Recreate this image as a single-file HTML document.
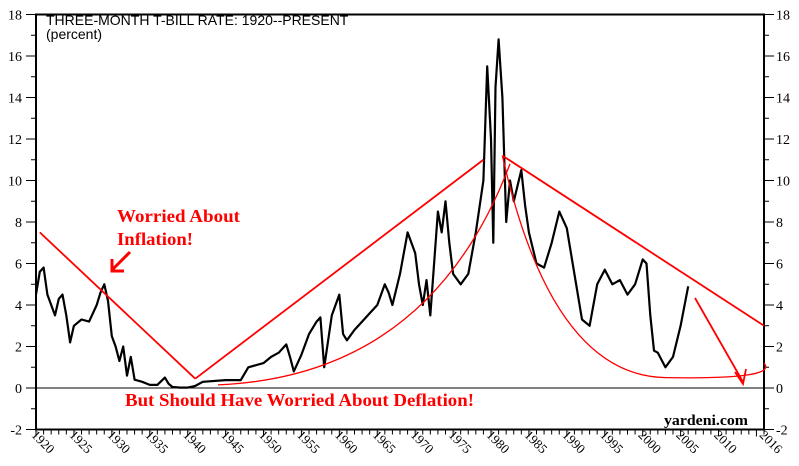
<!DOCTYPE html>
<html><head><meta charset="utf-8"><style>
body{margin:0;background:#fff;}
svg{display:block;font-family:"Liberation Serif",serif;}
</style></head><body>
<svg id="c" width="799" height="466"></svg>
<script>
const years=[1920,1920.5,1921,1921.5,1922,1922.5,1923,1923.5,1924,1924.5,1925,1926,1927,1928,1928.5,1929,1929.5,1930,1930.5,1931,1931.5,1932,1932.5,1933,1934,1935,1936,1937,1937.5,1938,1939,1940,1941,1942,1945,1947,1948,1949,1950,1951,1952,1953,1953.5,1954,1955,1956,1957,1957.5,1958,1959,1960,1960.5,1961,1962,1963,1964,1965,1966,1966.5,1967,1968,1969,1970,1970.5,1971,1971.5,1972,1973,1973.5,1974,1974.5,1975,1976,1977,1978,1979,1979.5,1980,1980.3,1980.6,1981,1981.5,1982,1982.5,1983,1984,1984.5,1985,1986,1987,1988,1989,1990,1991,1992,1993,1994,1995,1996,1997,1998,1999,2000,2000.5,2001,2001.5,2002,2003,2004,2005,2006];
const rates=[4.5,5.6,5.8,4.5,4.0,3.5,4.3,4.5,3.5,2.2,3.0,3.3,3.2,4.0,4.6,5.0,4.2,2.5,2.0,1.3,2.0,0.6,1.5,0.4,0.3,0.15,0.15,0.5,0.2,0.05,0.02,0.02,0.1,0.3,0.38,0.38,1.0,1.1,1.2,1.5,1.7,2.1,1.5,0.8,1.6,2.6,3.2,3.4,1.0,3.5,4.5,2.6,2.3,2.8,3.2,3.6,4.0,5.0,4.6,4.0,5.5,7.5,6.5,5.0,4.0,5.2,3.5,8.5,7.5,9.0,7.0,5.5,5.0,5.5,7.5,10.0,15.5,12.0,7.0,14.5,16.8,14.0,8.0,10.0,9.0,10.5,8.8,7.5,6.0,5.8,7.0,8.5,7.7,5.5,3.3,3.0,5.0,5.7,5.0,5.2,4.5,5.0,6.2,6.0,3.5,1.8,1.7,1.0,1.5,3.0,4.9];
const yTicks=[-2,0,2,4,6,8,10,12,14,16,18];
const xLabels=[1920,1925,1930,1935,1940,1945,1950,1955,1960,1965,1970,1975,1980,1985,1990,1995,2000,2005,2010,2016];
const X0=36,X1=764,Y0=388,PU=20.75;
const xs=y=>X0+(y-1920)*(X1-X0)/96;
const ys=v=>Y0-v*PU;
const svg=document.getElementById('c');
const NS='http://www.w3.org/2000/svg';
function mk(t,a,p){const e=document.createElementNS(NS,t);for(const k in a)e.setAttribute(k,a[k]);(p||svg).appendChild(e);return e;}
let e=mk('rect',{x:X0,y:ys(18),width:X1-X0,height:ys(-2)-ys(18),fill:'none',stroke:'#000','stroke-width':2});

e=mk('line',{x1:X0,x2:X1,y1:ys(0),y2:ys(0),stroke:'#000','stroke-width':1});

for(let v=-2;v<=18;v++){const big=v%2===0;const L=big?10:5;
 mk('line',{x1:X0-L,x2:X0,y1:ys(v),y2:ys(v),stroke:'#000'});
 mk('line',{x1:X1,x2:X1+L,y1:ys(v),y2:ys(v),stroke:'#000'});}
yTicks.forEach(v=>{
 let t=mk('text',{x:22,y:ys(v)+5,'text-anchor':'end','font-size':14});t.textContent=v;
 
 t=mk('text',{x:776,y:ys(v)+5,'text-anchor':'start','font-size':14});t.textContent=v;
 });
for(let y=1920;y<=2016;y++){mk('line',{x1:xs(y),x2:xs(y),y1:ys(-2),y2:ys(-2)+(y%5===0?7:5),stroke:'#000'});}
xLabels.forEach(y=>{const x=xs(y)+4,yy=445;
 const t=mk('text',{x:x,y:yy,'font-size':13,transform:`rotate(45 ${x} ${yy})`,'text-anchor':'middle'});t.textContent=y;
 });
e=mk('path',{d:years.map((y,i)=>(i?'L':'M')+xs(y).toFixed(1)+' '+ys(rates[i]).toFixed(1)).join(''),fill:'none',stroke:'#000','stroke-width':2.2,'stroke-linejoin':'round'});

const R='#f00';
function ln(a,b,c,d,n){const l=mk('line',{x1:xs(a),y1:ys(b),x2:xs(c),y2:ys(d),stroke:R,'stroke-width':1.8});}
ln(1920.5,7.5,1941,0.45,'trend-down-1920s');
ln(1941,0.45,1979,11.0,'trend-up-postwar');
ln(1981.5,11.2,2016,3.0,'trend-down-1980s');
e=mk('path',{d:`M${xs(1944)} ${ys(0.15)} Q${xs(1972)} ${ys(0.6)} ${xs(1982.5)} ${ys(10.8)}`,fill:'none',stroke:R,'stroke-width':1.3});

e=mk('path',{d:`M${xs(1981.5)} ${ys(11.2)} Q${xs(1988)} ${ys(0.6)} ${xs(2003)} ${ys(0.5)} T${xs(2016)} ${ys(1.2)}`,fill:'none',stroke:R,'stroke-width':1.3});

e=mk('path',{d:'M695 298 L743 382 M735 372 L743 384 L746 369',fill:'none',stroke:R,'stroke-width':1.8});

e=mk('path',{d:'M130 252 L112 270 M112 259 L112 271 L124 271',fill:'none',stroke:R,'stroke-width':3});

function tx(x,y,s,str,attrs,n){const t=mk('text',Object.assign({x:x,y:y,'font-size':s},attrs));t.textContent=str;}
tx(117,222,18,'Worried About',{fill:R,'font-weight':'bold',textLength:123,lengthAdjust:'spacingAndGlyphs'},'annotation-inflation-1');
tx(117,245,18,'Inflation!',{fill:R,'font-weight':'bold',textLength:76,lengthAdjust:'spacingAndGlyphs'},'annotation-inflation-2');
tx(125,406,18,'But Should Have Worried About Deflation!',{fill:R,'font-weight':'bold',textLength:349,lengthAdjust:'spacingAndGlyphs'},'annotation-deflation');
tx(664,425,15,'yardeni.com',{'font-weight':'bold',textLength:84,lengthAdjust:'spacingAndGlyphs'},'source-label');
tx(46,25,14,'THREE-MONTH T-BILL RATE: 1920--PRESENT',{'font-family':'Liberation Sans, sans-serif'},'chart-title');
tx(46,39,14,'(percent)',{'font-family':'Liberation Sans, sans-serif'},'chart-subtitle');
</script>
</body></html>
